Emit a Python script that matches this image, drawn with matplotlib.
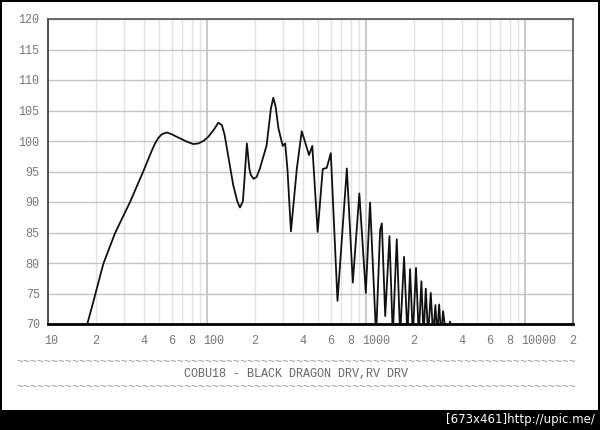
import matplotlib
matplotlib.use("Agg")
import matplotlib.pyplot as plt
from matplotlib.patches import Rectangle
from matplotlib.transforms import ScaledTranslation

# ── Data ─────────────────────────────────────────────────────────────────────

freq_hz = [16, 17.7, 19.3, 22.3, 26.4, 32.8, 39.7, 44.9, 47.1, 49.4,
           51.9, 55.8, 60, 64.4, 69.3, 74.5, 81.9, 88.1, 94.9, 101.9,
           110, 117.8, 124, 129, 136, 146, 155, 161, 168, 171,
           178, 184.5, 188, 196, 205, 215, 237, 252, 261, 270,
           281, 299, 310, 320, 337, 367, 394, 438, 459, 496,
           534, 566, 600, 661, 757, 825, 907, 996,
           1059, 1156, 1225, 1256, 1319, 1403, 1472, 1559, 1637, 1733,
           1820, 1891, 1967, 2060, 2145, 2227, 2300, 2373, 2455, 2551,
           2638, 2728, 2797, 2880, 2963, 3050, 3186, 3375, 3500]
spl_db = [66, 70.1, 73.7, 79.9, 84.9, 90.0, 95.0, 98.4, 99.6, 100.5,
          101.1, 101.4, 101.1, 100.7, 100.3, 99.9, 99.5, 99.6, 100.0, 100.7,
          101.8, 103.0, 102.6, 101.0, 97.5, 92.8, 90.1, 89.1, 90.1, 92.8,
          99.6, 95.5, 94.5, 93.8, 94.1, 95.5, 99.3, 105.3, 107.1, 105.6,
          102.1, 99.2, 99.6, 95.5, 85.2, 95.5, 101.6, 97.7, 99.2, 85.1,
          95.4, 95.6, 98.0, 73.8, 95.5, 76.8, 91.4, 75.1,
          89.9, 68, 85.4, 86.5, 71.3, 84.4, 68, 83.9, 68, 81.0,
          68, 79.0, 68, 79.2, 68, 77.0, 68, 75.8, 68, 75.1,
          68, 73.1, 68, 73.2, 68, 72.1, 68, 70.4, 68]

major_x = [10, 100, 1000, 10000]
minor_x = [20, 30, 40, 50, 60, 70, 80, 90,
           200, 300, 400, 500, 600, 700, 800, 900,
           2000, 3000, 4000, 5000, 6000, 7000, 8000, 9000, 20000]
minor_labels = ["2", "", "4", "", "6", "", "8", "",
                "2", "", "4", "", "6", "", "8", "",
                "2", "", "4", "", "6", "", "8", "", "2"]
y_ticks = [70, 75, 80, 85, 90, 95, 100, 105, 110, 115, 120]

title = "COBU18 - BLACK DRAGON DRV,RV DRV"
stamp = "[673x461]http://upic.me/"

MONO = "Liberation Mono"
TXT = "#777777"

# ── Figure with black frame ─────────────────────────────────────────────────

fig = plt.figure(figsize=(6, 4.3), dpi=100, facecolor="black")
fig.patches.append(Rectangle((2 / 600, 20 / 430), 596 / 600, 408 / 430,
                             transform=fig.transFigure, facecolor="white",
                             edgecolor="none", zorder=-10))

ax = fig.add_axes([48 / 600, 106 / 430, 525 / 600, 305 / 430], zorder=2)
ax.set_xscale("log")
ax.set_xlim(10, 20000)
ax.set_ylim(70, 120)

ax.plot(freq_hz, spl_db, color="#111111", linewidth=1.3, zorder=3)

# grid
ax.set_xticks(major_x)
ax.set_xticklabels([str(v) for v in major_x])
ax.set_xticks(minor_x, minor=True)
ax.set_xticklabels(minor_labels, minor=True)
ax.set_yticks(y_ticks)
ax.grid(which="major", axis="x", color="#c4c4c4", linewidth=1.3)
ax.grid(which="minor", axis="x", color="#e2e2e2", linewidth=1.0)
ax.grid(which="major", axis="y", color="#c4c4c4", linewidth=1.0)
ax.set_axisbelow(True)

ax.tick_params(which="both", length=0, colors=TXT, labelsize=8.5)
ax.tick_params(axis="x", which="both", pad=8)
ax.tick_params(axis="y", pad=6)
for lab in ax.get_xticklabels() + ax.get_xticklabels(minor=True) + ax.get_yticklabels():
    lab.set_fontfamily(MONO)

# put the first character of each x label on its gridline
for lab in ax.get_xticklabels() + ax.get_xticklabels(minor=True):
    n = len(lab.get_text())
    if n > 1:
        dx = (n - 1) / 2 * 0.07
        lab.set_transform(lab.get_transform() + ScaledTranslation(dx, 0, fig.dpi_scale_trans))

ax.spines["bottom"].set_color("black")
ax.spines["bottom"].set_linewidth(2)
ax.spines["left"].set_color("#444444")
ax.spines["left"].set_linewidth(1.3)
for s in ("top", "right"):
    ax.spines[s].set_color("#555555")
    ax.spines[s].set_linewidth(1.2)

# ── Caption block ───────────────────────────────────────────────────────────

tildes = "~" * 80
fig.text(296 / 600, 1 - 362 / 430, tildes, family=MONO, color="#999999",
         fontsize=8.5, ha="center", va="center")
fig.text(296 / 600, 1 - 374 / 430, title, family=MONO, color="#666666",
         fontsize=8.5, ha="center", va="center")
fig.text(296 / 600, 1 - 387 / 430, tildes, family=MONO, color="#999999",
         fontsize=8.5, ha="center", va="center")

fig.text(595 / 600, 1 - 419 / 430, stamp, color="white", fontsize=8.5,
         ha="right", va="center")

fig.savefig("out.png", dpi=100, facecolor="black")
